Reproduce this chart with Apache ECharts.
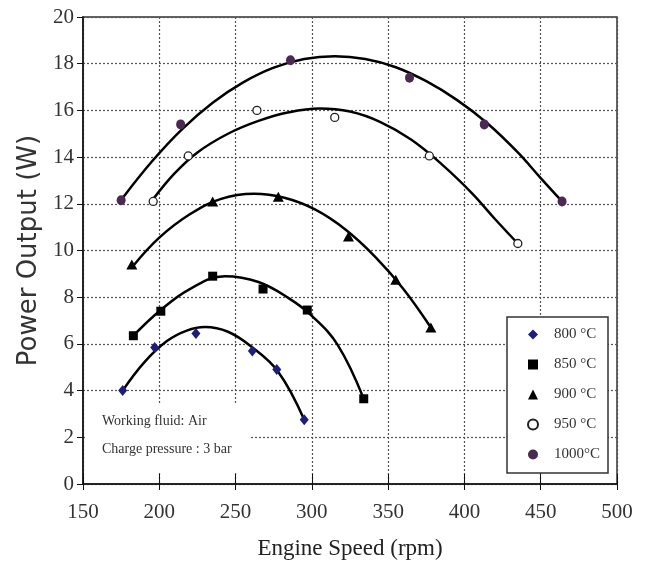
<!DOCTYPE html>
<html>
<head>
<meta charset="utf-8">
<script src="https://cdn.jsdelivr.net/npm/echarts@6/dist/echarts.min.js"></script>
<style>
  html, body { margin: 0; padding: 0; background: #fff; }
  #chart { width: 646px; height: 570px; }
</style>
</head>
<body>
<div id="chart"></div>
<script>
// measured points, [rpm, W]
const names = ['800 °C', '850 °C', '900 °C', '950 °C', '1000°C'];
const pts800 = [[176, 4.0], [197, 5.85], [224, 6.45], [261, 5.7], [277, 4.9], [295, 2.75]];
const pts850 = [[183, 6.35], [201, 7.4], [235, 8.9], [268, 8.35], [297, 7.45], [334, 3.65]];
const pts900 = [[182, 9.4], [235, 12.1], [278, 12.3], [324, 10.6], [355, 8.75], [378, 6.7]];
const pts950 = [[196, 12.1], [219, 14.05], [264, 16.0], [315, 15.7], [377, 14.05], [435, 10.3]];
const pts1000 = [[175, 12.15], [214, 15.4], [286, 18.15], [364, 17.4], [413, 15.4], [464, 12.1]];

// trend curves
const fit800 = [[176, 4.0], [190, 5.2], [205, 6.12], [218, 6.57], [230, 6.72], [245, 6.52], [260, 5.9], [278, 4.8], [295, 2.75]];
const fit850 = [[183, 6.35], [200, 7.4], [220, 8.35], [243, 8.9], [265, 8.65], [285, 7.95], [300, 7.2], [317, 5.95], [334, 3.65]];
const fit900 = [[183, 9.35], [200, 10.55], [220, 11.55], [240, 12.2], [262, 12.43], [282, 12.26], [302, 11.76], [322, 10.9], [342, 9.7], [360, 8.35], [378, 6.7]];
const fit950 = [[196, 12.2], [210, 13.3], [225, 14.2], [245, 15.0], [265, 15.55], [285, 15.92], [305, 16.08], [325, 15.95], [345, 15.5], [365, 14.75], [385, 13.7], [405, 12.45], [420, 11.35], [435, 10.3]];
const fit1000 = [[176, 12.25], [195, 13.8], [215, 15.2], [235, 16.33], [255, 17.2], [275, 17.83], [295, 18.2], [315, 18.32], [335, 18.2], [355, 17.85], [375, 17.25], [395, 16.45], [415, 15.45], [435, 14.2], [450, 13.1], [464, 12.1]];

const xTicks = { min: 150, max: 500, interval: 50 };
const yTicks = { min: 0, max: 20, interval: 2 };

const serif = '"Liberation Serif", "DejaVu Serif", serif';

const points = [pts800, pts850, pts900, pts950, pts1000];
const fits = [fit800, fit850, fit900, fit950, fit1000];
const symbols = ['diamond', 'rect', 'triangle', 'circle', 'circle'];
const sizes = [[9, 11], 9, [11, 10], 8, [9, 10]];
const fills = ['#1e1e7a', '#000', '#000', '#fff', '#4a2a50'];

const series = [];
fits.forEach((d) => {
  series.push({
    type: 'line',
    data: d,
    smooth: 0.4,
    showSymbol: false,
    silent: true,
    z: 2,
    lineStyle: { color: '#000', width: 2.5 }
  });
});
points.forEach((d, i) => {
  series.push({
    name: names[i],
    type: 'scatter',
    data: d,
    symbol: symbols[i],
    symbolSize: sizes[i],
    z: 3,
    itemStyle: {
      color: fills[i],
      borderColor: i === 3 ? '#222' : fills[i],
      borderWidth: i === 3 ? 1.3 : 0,
      opacity: 1
    }
  });
});

const myChart = echarts.init(document.getElementById('chart'));
const option = {
  animation: false,
  backgroundColor: '#fff',
  grid: {
    left: 83, right: 29, top: 17, bottom: 86,
    show: true, borderColor: '#333', borderWidth: 1.5
  },
  xAxis: [{
    type: 'value',
    min: xTicks.min, max: xTicks.max, interval: xTicks.interval,
    name: 'Engine Speed (rpm)',
    nameLocation: 'middle',
    nameGap: 53,
    nameTextStyle: { fontFamily: serif, fontSize: 23, color: '#222' },
    axisLine: { lineStyle: { color: '#111', width: 1.5 } },
    axisTick: { inside: true, length: 10, lineStyle: { color: '#111' } },
    axisLabel: { fontFamily: serif, fontSize: 21, color: '#333', margin: 18 },
    splitLine: { show: true, lineStyle: { color: '#555', type: [2, 2], width: 1.2 } }
  }, {
    type: 'value',
    position: 'bottom',
    min: xTicks.min, max: xTicks.max, interval: xTicks.interval,
    axisLine: { show: false },
    axisTick: { inside: false, length: 6, lineStyle: { color: '#111' } },
    axisLabel: { show: false },
    splitLine: { show: false }
  }],
  yAxis: {
    type: 'value',
    min: yTicks.min, max: yTicks.max, interval: yTicks.interval,
    name: 'Power Output (W)',
    nameLocation: 'middle',
    nameGap: 40,
    nameTextStyle: { fontFamily: '"DejaVu Sans", sans-serif', fontSize: 26, color: '#333' },
    axisLine: { show: true, lineStyle: { color: '#111', width: 1.5 } },
    axisTick: { show: true, length: 6, lineStyle: { color: '#111' } },
    axisLabel: { fontFamily: serif, fontSize: 21, color: '#333', margin: 9 },
    splitLine: { show: true, lineStyle: { color: '#555', type: [2, 2], width: 1.2 } }
  },
  legend: {
    data: names,
    orient: 'vertical',
    left: 507,
    top: 317,
    itemWidth: 10,
    itemHeight: 10,
    itemGap: 15,
    padding: [10, 8, 11, 20],
    borderColor: '#333',
    borderWidth: 1.5,
    backgroundColor: '#fff',
    textStyle: { fontFamily: serif, fontSize: 15, color: '#333', padding: [0, 0, 0, 11] }
  },
  graphic: [
    { type: 'rect', left: 85, top: 405, z: 1, shape: { width: 165, height: 67 }, style: { fill: '#fff' } },
    { type: 'text', left: 102, top: 414, z: 2, style: { text: 'Working fluid: Air', font: '14px "Liberation Serif"', fill: '#333' } },
    { type: 'text', left: 102, top: 442, z: 2, style: { text: 'Charge pressure : 3 bar', font: '14px "Liberation Serif"', fill: '#333' } }
  ],
  series: series
};
myChart.setOption(option);
</script>
</body>
</html>
